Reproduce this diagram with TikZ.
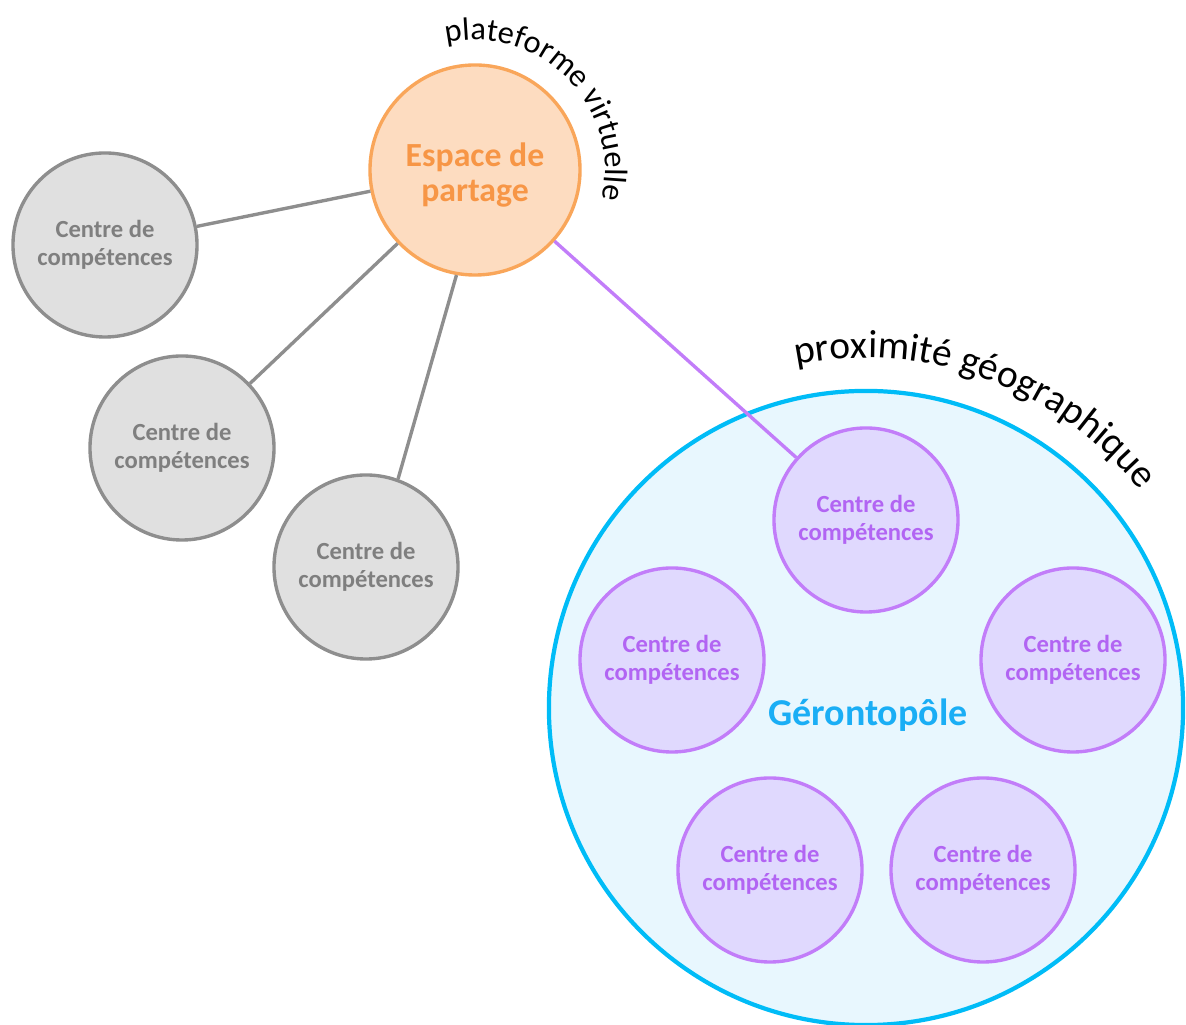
\documentclass[tikz,border=0pt]{standalone}
\usepackage{fontspec}
\setmainfont{Carlito}
\usetikzlibrary{decorations.text, calc}
\definecolor{orfond}{HTML}{FDDCC0}
\definecolor{orbord}{HTML}{F9A65A}
\definecolor{ortexte}{HTML}{F79646}
\definecolor{grisfond}{HTML}{E0E0E0}
\definecolor{grisbord}{HTML}{8E8E8E}
\definecolor{gristexte}{HTML}{7F7F7F}
\definecolor{violfond}{HTML}{E0D9FE}
\definecolor{violbord}{HTML}{C27DF9}
\definecolor{violtexte}{HTML}{B265F3}
\definecolor{bleufond}{HTML}{E8F7FE}
\definecolor{bleubord}{HTML}{00BCF7}
\definecolor{bleutexte}{HTML}{1AAEF5}

\begin{document}
\begin{tikzpicture}[x=0.025cm, y=0.025cm,
    centre/.style={circle, line width=2.4pt, minimum size=4.6cm, inner sep=0pt, align=center,
      font=\fontsize{17.5}{20}\selectfont\bfseries},
    gris/.style={centre, draw=grisbord, fill=grisfond, text=gristexte},
    viol/.style={centre, draw=violbord, fill=violfond, text=violtexte}]
  \useasboundingbox (0,0) rectangle (1186,1025);

  \node[circle, draw=bleubord, fill=bleufond, line width=3pt, minimum size=15.85cm] (G) at (866,317) {};
  \node[text=bleutexte, font=\fontsize{27}{30}\selectfont\bfseries] (gt) at (868,310) {Gérontopôle};
  \node[circle, draw=orbord, fill=orfond, line width=2.4pt, minimum size=5.25cm] (E) at (475,855) {};
  \node[align=center, text=ortexte, font=\fontsize{24}{25.5}\selectfont\bfseries] (et) at (475,850) {Espace de\\partage};

  \node[gris] (g1) at (105,780) {Centre de\\compétences};
  \node[gris] (g2) at (182,577) {Centre de\\compétences};
  \node[gris] (g3) at (366,458) {Centre de\\compétences};

  \node[viol] (p1) at (866,505) {Centre de\\compétences};
  \node[viol] (p2) at (672,365) {Centre de\\compétences};
  \node[viol] (p3) at (1073,365) {Centre de\\compétences};
  \node[viol] (p4) at (770,155) {Centre de\\compétences};
  \node[viol] (p5) at (983,155) {Centre de\\compétences};

  \draw[grisbord, line width=2.4pt] (E) -- (g1);
  \draw[grisbord, line width=2.4pt] (E) -- (g2);
  \draw[grisbord, line width=2.4pt] (E.-100) -- (g3.70);
  \draw[violbord, line width=2.4pt] (E) -- (p1);

  \path[decorate, decoration={text along path, text align=center,
      text={|\fontsize{23}{25}\selectfont|plateforme virtuelle}}]
    ($(E.center)+(100:130)$) arc[start angle=100, end angle=-10, radius=130];
  \path[decorate, decoration={text along path, text align=center,
      text={|\fontsize{28}{30}\selectfont|proximité géographique}}]
    ($(G.center)+(101:350)$) arc[start angle=101, end angle=39, radius=350];
\end{tikzpicture}
\end{document}
